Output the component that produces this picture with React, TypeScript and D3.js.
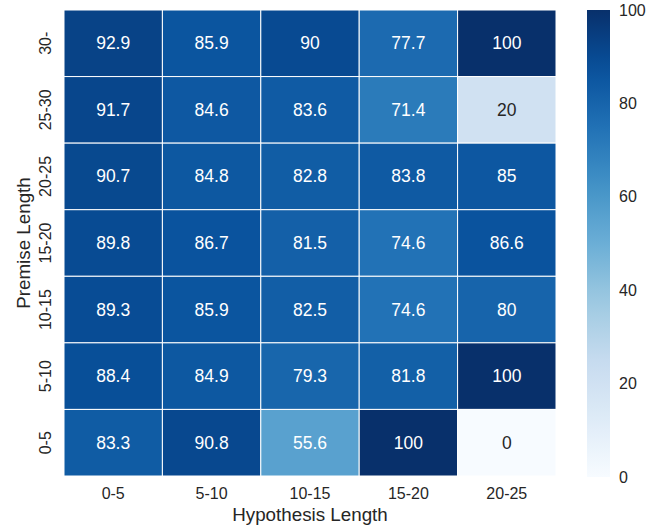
import React from "react";
import * as d3 from "d3";

// Row labels listed top to bottom, column labels left to right
const premiseLabels = ["30-", "25-30", "20-25", "15-20", "10-15", "5-10", "0-5"];
const hypothesisLabels = ["0-5", "5-10", "10-15", "15-20", "20-25"];

const row30plus = [92.9, 85.9, 90, 77.7, 100];
const row25to30 = [91.7, 84.6, 83.6, 71.4, 20];
const row20to25 = [90.7, 84.8, 82.8, 83.8, 85];
const row15to20 = [89.8, 86.7, 81.5, 74.6, 86.6];
const row10to15 = [89.3, 85.9, 82.5, 74.6, 80];
const row5to10 = [88.4, 84.9, 79.3, 81.8, 100];
const row0to5 = [83.3, 90.8, 55.6, 100, 0];

const matrix = [row30plus, row25to30, row20to25, row15to20, row10to15, row5to10, row0to5];

const colorbarTicks = [0, 20, 40, 60, 80, 100];

// ColorBrewer Blues, 9 classes, linearly interpolated
const bluesStops = [
  "#f7fbff", "#deebf7", "#c6dbef", "#9ecae1", "#6baed6",
  "#4292c6", "#2171b5", "#08519c", "#08306b",
];

const W = 662;
const H = 529;
const FONT = "'Liberation Sans', Arial, sans-serif";
const TEXT_DARK = "#262626";

const plot = { left: 64, right: 556, top: 10, bottom: 476 };
const cbar = { left: 587, right: 610, top: 10, bottom: 477 };

const color = d3
  .scaleLinear<string>()
  .domain(d3.range(bluesStops.length).map((i) => (i * 100) / (bluesStops.length - 1)))
  .range(bluesStops)
  .interpolate(d3.interpolateRgb);

function luminance(c: string): number {
  const rgb = d3.rgb(c);
  const f = (v: number) => {
    const s = v / 255;
    return s <= 0.03928 ? s / 12.92 : Math.pow((s + 0.055) / 1.055, 2.4);
  };
  return 0.2126 * f(rgb.r) + 0.7152 * f(rgb.g) + 0.0722 * f(rgb.b);
}

const fmt = d3.format(".3~g");

export default function App() {
  const x = d3.scaleBand<string>().domain(hypothesisLabels).range([plot.left, plot.right]);
  const y = d3.scaleBand<string>().domain(premiseLabels).range([plot.top, plot.bottom]);
  const cy = d3.scaleLinear().domain([0, 100]).range([cbar.bottom, cbar.top]);

  const gradStops = d3.range(0, 101, 5);

  return (
    <svg
      width={W}
      height={H}
      style={{ position: "absolute", left: 0, top: 0, background: "#fff" }}
      fontFamily={FONT}
    >
      <defs>
        <linearGradient id="bluesGrad" x1="0" y1="1" x2="0" y2="0">
          {gradStops.map((v) => (
            <stop key={v} offset={`${v}%`} stopColor={color(v)} />
          ))}
        </linearGradient>
      </defs>

      {/* cells */}
      {matrix.map((row, ri) =>
        row.map((v, ci) => {
          const fill = color(v);
          const cx = x(hypothesisLabels[ci])!;
          const ry = y(premiseLabels[ri])!;
          const txtColor = luminance(fill) > 0.408 ? TEXT_DARK : "#ffffff";
          return (
            <g key={`${ri}-${ci}`}>
              <rect
                x={cx}
                y={ry}
                width={x.bandwidth()}
                height={y.bandwidth()}
                fill={fill}
                stroke="#ffffff"
                strokeWidth={1}
              />
              <text
                x={cx + x.bandwidth() / 2}
                y={ry + y.bandwidth() / 2}
                textAnchor="middle"
                dominantBaseline="central"
                fontSize={17.5}
                fill={txtColor}
              >
                {fmt(v)}
              </text>
            </g>
          );
        })
      )}

      {/* x tick labels */}
      {hypothesisLabels.map((l) => (
        <text
          key={l}
          x={x(l)! + x.bandwidth() / 2}
          y={499}
          textAnchor="middle"
          fontSize={16}
          fill={TEXT_DARK}
        >
          {l}
        </text>
      ))}

      {/* y tick labels */}
      {premiseLabels.map((l) => {
        const yy = y(l)! + y.bandwidth() / 2;
        return (
          <text
            key={l}
            transform={`translate(51,${yy}) rotate(-90)`}
            textAnchor="middle"
            fontSize={16}
            fill={TEXT_DARK}
          >
            {l}
          </text>
        );
      })}

      {/* axis titles */}
      <text
        x={(plot.left + plot.right) / 2 + 0}
        y={521}
        textAnchor="middle"
        fontSize={18.8}
        fill={TEXT_DARK}
      >
        Hypothesis Length
      </text>
      <text
        transform={`translate(30,${(plot.top + plot.bottom) / 2}) rotate(-90)`}
        textAnchor="middle"
        fontSize={18.8}
        fill={TEXT_DARK}
      >
        Premise Length
      </text>

      {/* colorbar */}
      <rect
        x={cbar.left}
        y={cbar.top}
        width={cbar.right - cbar.left}
        height={cbar.bottom - cbar.top}
        fill="url(#bluesGrad)"
      />
      {colorbarTicks.map((t) => (
        <text
          key={t}
          x={619}
          y={cy(t)}
          dominantBaseline="central"
          fontSize={16}
          fill={TEXT_DARK}
        >
          {t}
        </text>
      ))}
    </svg>
  );
}
